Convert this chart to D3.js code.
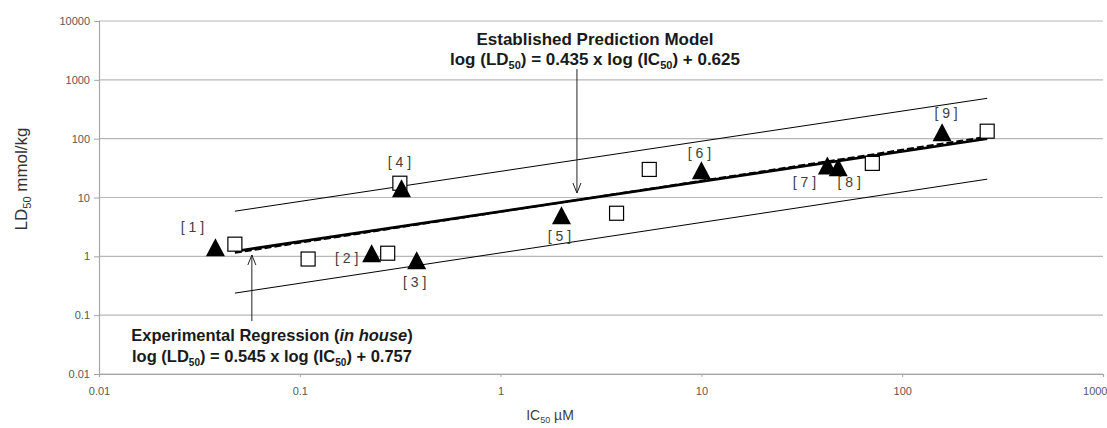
<!DOCTYPE html>
<html>
<head>
<meta charset="utf-8">
<script src="https://cdn.jsdelivr.net/npm/d3@7"></script>
<style>
  body { margin: 0; background: #fff; }
  text { font-family: "Liberation Sans", Arial, sans-serif; }
</style>
</head>
<body>
<div id="chart"></div>
<script>
// Triangles (numbered compounds)
var triIC50 = [0.038, 0.228, 0.382, 0.321, 2.01, 10, 42.4, 48, 158];
var triLD50 = [1.43, 1.13, 0.86, 14.4, 5.0, 29, 35, 32.8, 128];
var triLabels = ["[ 1 ]", "[ 2 ]", "[ 3 ]", "[ 4 ]", "[ 5 ]", "[ 6 ]", "[ 7 ]", "[ 8 ]", "[ 9 ]"];

// Open squares
var sqIC50 = [0.0475, 0.110, 0.274, 0.315, 3.78, 5.5, 71, 265];
var sqLD50 = [1.61, 0.90, 1.13, 17.5, 5.4, 30, 38, 134];

// Lines (end points)
var lineIC50 = [0.0475, 265];
var solidLD50 = [1.22, 100];
var dashLD50 = [1.15, 108];
var upperLD50 = [5.85, 485];
var lowerLD50 = [0.237, 20.5];

// Ticks
var xTicks = [0.01, 0.1, 1, 10, 100, 1000];
var yTicks = [0.01, 0.1, 1, 10, 100, 1000, 10000];

// label placement relative to its triangle (px)
var labelOffset = [[-23, -20], [-25, 5], [-2, 22], [-2, -26], [-2, 21], [-2, -17], [-23, 17], [11, 15], [4, -19]];

var margin = {top: 21, right: 4, bottom: 54, left: 99},
    totalW = 1107, totalH = 428,
    width = totalW - margin.left - margin.right,
    height = totalH - margin.top - margin.bottom;

var svg = d3.select("#chart").append("svg")
    .attr("width", totalW)
    .attr("height", totalH);

var g = svg.append("g")
    .attr("transform", "translate(" + margin.left + "," + margin.top + ")");

var x = d3.scaleLog().domain([0.01, 1000]).range([0, width]);
var y = d3.scaleLog().domain([0.01, 10000]).range([height, 0]);

var fmt = function(d) { return d >= 1 ? d3.format("d")(d) : String(d); };
var narrow = "'Liberation Sans Narrow', 'Liberation Sans', Arial, sans-serif";

// gridlines
g.append("g").selectAll("line").data(yTicks).enter().append("line")
    .attr("x1", 0).attr("x2", width)
    .attr("y1", function(d) { return y(d); })
    .attr("y2", function(d) { return y(d); })
    .attr("stroke", "#b8b8b8").attr("stroke-width", 1.2);

// Y axis
var yAxis = d3.axisLeft(y).tickValues(yTicks).tickFormat(fmt).tickSize(5).tickPadding(4);
var gy = g.append("g").call(yAxis);
gy.select(".domain").attr("stroke", "#a6a6a6").attr("stroke-width", 1.2);
gy.selectAll(".tick line").attr("stroke", "#a6a6a6");
gy.selectAll(".tick text").attr("fill", "#595959")
    .style("font-family", narrow).style("font-size", "11px");

// X axis
var xAxis = d3.axisBottom(x).tickValues(xTicks).tickFormat(fmt).tickSize(3).tickPadding(10);
var gx = g.append("g").attr("transform", "translate(0," + height + ")").call(xAxis);
gx.select(".domain").attr("stroke", "#a6a6a6").attr("stroke-width", 1.2);
gx.selectAll(".tick line").attr("stroke", "#a6a6a6");
gx.selectAll(".tick text").attr("fill", "#595959")
    .style("font-family", narrow).style("font-size", "11px")
    .attr("text-anchor", function(d) { return d === 1000 ? "end" : "middle"; })
    .attr("dx", function(d) { return d === 1000 ? "4" : "0"; });

// lines
function seg(vals) {
  var pts = lineIC50.map(function(v, i) { return [x(v), y(vals[i])]; });
  return g.append("path")
      .attr("d", d3.line()(pts))
      .attr("fill", "none").attr("stroke", "#000");
}
seg(upperLD50).attr("stroke-width", 1);
seg(lowerLD50).attr("stroke-width", 1);
seg(dashLD50).attr("stroke-width", 2).attr("stroke-dasharray", "7,3");
seg(solidLD50).attr("stroke-width", 2.6);

// squares
var sq = 14;
g.append("g").selectAll("rect").data(sqIC50).enter().append("rect")
    .attr("x", function(d) { return x(d) - sq / 2; })
    .attr("y", function(d, i) { return y(sqLD50[i]) - sq / 2; })
    .attr("width", sq).attr("height", sq)
    .attr("fill", "#fff").attr("stroke", "#000").attr("stroke-width", 1.2);

// triangles
g.append("g").selectAll("path").data(triIC50).enter().append("path")
    .attr("transform", function(d, i) { return "translate(" + x(d) + "," + y(triLD50[i]) + ")"; })
    .attr("d", "M0,-9L9.5,9L-9.5,9Z")
    .attr("fill", "#000");

// labels
g.append("g").selectAll("text").data(triLabels).enter().append("text")
    .attr("x", function(d, i) { return x(triIC50[i]) + labelOffset[i][0]; })
    .attr("y", function(d, i) { return y(triLD50[i]) + labelOffset[i][1]; })
    .attr("text-anchor", "middle").attr("dominant-baseline", "central")
    .attr("fill", "#404040").style("font-size", "14px")
    .text(function(d) { return d; });

// equation text helper
function equation(sel, slope, icpt, size) {
  var sub = Math.round(size * 0.62) + "px";
  sel.append("tspan").text("log (LD");
  sel.append("tspan").attr("dy", 4).style("font-size", sub).text("50");
  sel.append("tspan").attr("dy", -4).text(") = " + slope + " x log (IC");
  sel.append("tspan").attr("dy", 4).style("font-size", sub).text("50");
  sel.append("tspan").attr("dy", -4).text(") + " + icpt);
}

// annotation: established model
var estX = x(2.4);
g.append("line").attr("x1", estX).attr("x2", estX).attr("y1", 48).attr("y2", 172)
    .attr("stroke", "#222").attr("stroke-width", 1);
g.append("path").attr("d", "M" + (estX - 4) + ",162L" + estX + ",172L" + (estX + 4) + ",162")
    .attr("fill", "none").attr("stroke", "#222");

svg.append("text").attr("x", 595).attr("y", 45).attr("text-anchor", "middle")
    .attr("fill", "#1a1a1a").style("font-size", "17px").style("font-weight", "bold")
    .text("Established Prediction Model");
var t2 = svg.append("text").attr("x", 595).attr("y", 65).attr("text-anchor", "middle")
    .attr("fill", "#1a1a1a").style("font-size", "17px").style("font-weight", "bold");
equation(t2, "0.435", "0.625", 17);

// annotation: experimental regression
var expX = x(0.0577);
g.append("line").attr("x1", expX).attr("x2", expX).attr("y1", 234).attr("y2", 300)
    .attr("stroke", "#222").attr("stroke-width", 1);
g.append("path").attr("d", "M" + (expX - 4) + ",244L" + expX + ",234L" + (expX + 4) + ",244")
    .attr("fill", "none").attr("stroke", "#222");

var e1 = svg.append("text").attr("x", 272).attr("y", 341).attr("text-anchor", "middle")
    .attr("fill", "#1a1a1a").style("font-size", "16.5px").style("font-weight", "bold");
e1.append("tspan").text("Experimental Regression  (");
e1.append("tspan").style("font-style", "italic").text("in house");
e1.append("tspan").text(")");
var e2 = svg.append("text").attr("x", 272).attr("y", 362).attr("text-anchor", "middle")
    .attr("fill", "#1a1a1a").style("font-size", "16.5px").style("font-weight", "bold");
equation(e2, "0.545", "0.757", 16.5);

// axis titles
var yl = svg.append("text").attr("transform", "translate(27,179) rotate(-90)")
    .attr("text-anchor", "middle").attr("fill", "#333").style("font-size", "17px");
yl.append("tspan").text("LD");
yl.append("tspan").attr("dy", 4).style("font-size", "11px").text("50");
yl.append("tspan").attr("dy", -4).text(" mmol/kg");

var xl = svg.append("text").attr("x", 550).attr("y", 420)
    .attr("text-anchor", "middle").attr("fill", "#404040").style("font-size", "14px")
    .style("font-family", narrow);
xl.append("tspan").text("IC");
xl.append("tspan").attr("dy", 3).style("font-size", "9px").text("50");
xl.append("tspan").attr("dy", -3).text(" \u00b5M");
</script>
</body>
</html>
